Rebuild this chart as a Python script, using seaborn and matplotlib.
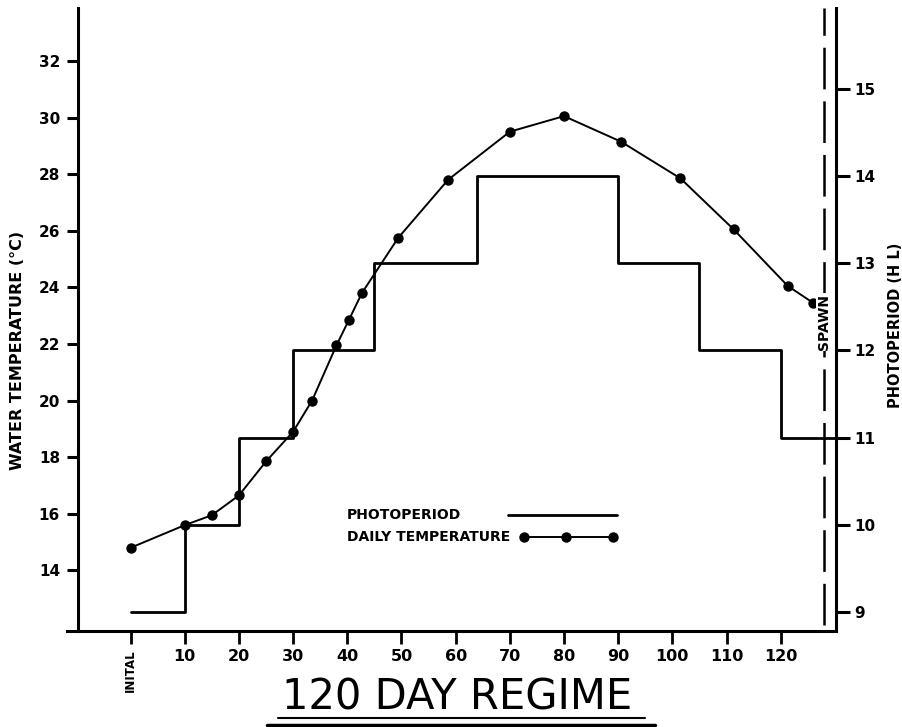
import matplotlib
matplotlib.use("Agg")
from matplotlib import pyplot as plt
from matplotlib.lines import Line2D
import pandas as pd
import seaborn as sns

# daily temperature readings (day, deg C)
temp_days = [0, 10, 15, 20, 25, 30, 33.5, 38, 40.3, 42.7, 49.4, 58.6, 70, 80, 90.5, 101.5, 111.3, 121.3, 126]
temp_vals = [14.8, 15.6, 15.95, 16.65, 17.85, 18.9, 20.0, 21.95, 22.85, 23.8, 25.75, 27.8,
             29.5, 30.05, 29.15, 27.85, 26.05, 24.05, 23.45]

# photoperiod steps (start day, hours of light)
photo_days = [0, 10, 20, 30, 45, 64, 90, 105, 120]
photo_hours = [9, 10, 11, 12, 13, 14, 13, 12, 11]

spawn_day = 128
day_ticks = [0, 10, 20, 30, 40, 50, 60, 70, 80, 90, 100, 110, 120]
day_labels = ["INITAL", "10", "20", "30", "40", "50", "60", "70", "80", "90", "100", "110", "120"]
temp_ticks = [14, 16, 18, 20, 22, 24, 26, 28, 30, 32]
photo_ticks = [9, 10, 11, 12, 13, 14, 15]

sns.set_style("ticks", {"axes.edgecolor": "black", "xtick.color": "black", "ytick.color": "black",
                        "text.color": "black", "axes.labelcolor": "black"})
plt.rcParams["font.family"] = ["DejaVu Sans"]
plt.rcParams["font.weight"] = "bold"
plt.rcParams["lines.scale_dashes"] = False

fig = plt.figure(figsize=(9.02, 7.27), dpi=100)
ax = fig.add_axes([78 / 902, 1 - 631 / 727, (836 - 78) / 902, (631 - 8) / 727])
ax2 = ax.twinx()

xmin, xmax = -9.7, 130.2
ax.set_xlim(xmin, xmax)
ax.set_ylim(11.86, 33.87)
ax2.set_ylim(8.78, 15.93)

temp = pd.DataFrame({"day": temp_days, "temp": temp_vals})
sns.lineplot(data=temp, x="day", y="temp", ax=ax, color="black", lw=1.4,
             marker="o", markersize=7.5, markeredgewidth=0)

photo = pd.DataFrame({"day": photo_days + [xmax], "hours": photo_hours + [photo_hours[-1]]})
sns.lineplot(data=photo, x="day", y="hours", ax=ax2, color="black", lw=2,
             drawstyle="steps-post")

ax.axvline(spawn_day, ymin=0.01, ymax=1, color="black", lw=1.8, dashes=(30, 8.6))
ax.text(spawn_day, 0.496, "SPAWN", transform=ax.get_xaxis_transform(), rotation=90,
        ha="center", va="center", fontsize=10, fontweight="bold",
        bbox=dict(facecolor="white", edgecolor="none", pad=1))

# axes styling
for s in ["top", "right"]:
    ax.spines[s].set_visible(False)
for s in ["top", "left", "bottom"]:
    ax2.spines[s].set_visible(False)
for s in ["left", "bottom"]:
    ax.spines[s].set_linewidth(2.2)
ax2.spines["right"].set_linewidth(2.2)
ax.spines["bottom"].set_bounds(-11.7, xmax)

ax.set_xticks(day_ticks)
ax.set_xticklabels(day_labels)
ax.set_yticks(temp_ticks)
ax2.set_yticks(photo_ticks)
ax.tick_params(axis="x", direction="out", length=9, width=2, labelsize=11.5, pad=4)
ax.tick_params(axis="y", direction="out", length=8, width=2.2, labelsize=11, pad=5)
ax2.tick_params(axis="y", direction="out", length=10, width=2.2, labelsize=11, pad=3)
lab0 = ax.get_xticklabels()[0]
lab0.set_rotation(90)
lab0.set_fontsize(8.5)

ax.set_xlabel("")
ax.set_ylabel("WATER TEMPERATURE (°C)", fontsize=11.5, fontweight="bold")
ax.yaxis.set_label_coords(-0.070, 0.45)
ax2.set_xlabel("")
ax2.set_ylabel("PHOTOPERIOD (H L)", fontsize=10.5, fontweight="bold", rotation=90)
ax2.yaxis.set_label_coords(1.0686, 0.491)

# legend drawn as key text + sample lines (text left, sample right)
def ax_x(px):
    return (px - 78) / (836 - 78)

def ax_y(py):
    return (631 - py) / (631 - 8)

ax.text(ax_x(347), ax_y(515), "PHOTOPERIOD", transform=ax.transAxes,
        ha="left", va="center", fontsize=10, fontweight="bold")
ax.text(ax_x(347), ax_y(537), "DAILY TEMPERATURE", transform=ax.transAxes,
        ha="left", va="center", fontsize=10, fontweight="bold")
ax.add_line(Line2D([ax_x(508), ax_x(617)], [ax_y(515)] * 2, transform=ax.transAxes,
                   color="black", lw=2))
ax.add_line(Line2D([ax_x(524), ax_x(566), ax_x(613)], [ax_y(537)] * 3, transform=ax.transAxes,
                   color="black", lw=1.4, marker="o", markersize=7.5, markeredgewidth=0))

fig.text(0.507, 1 - 697 / 727, "120 DAY REGIME", ha="center", va="center", fontsize=30,
         fontweight="normal")
fig.add_artist(Line2D([278 / 902, 645 / 902], [1 - 718 / 727] * 2, color="black", lw=1.5))
fig.add_artist(Line2D([267 / 902, 655 / 902], [1 - 725 / 727] * 2, color="black", lw=2.5))

fig.savefig("out.png", dpi=100)
